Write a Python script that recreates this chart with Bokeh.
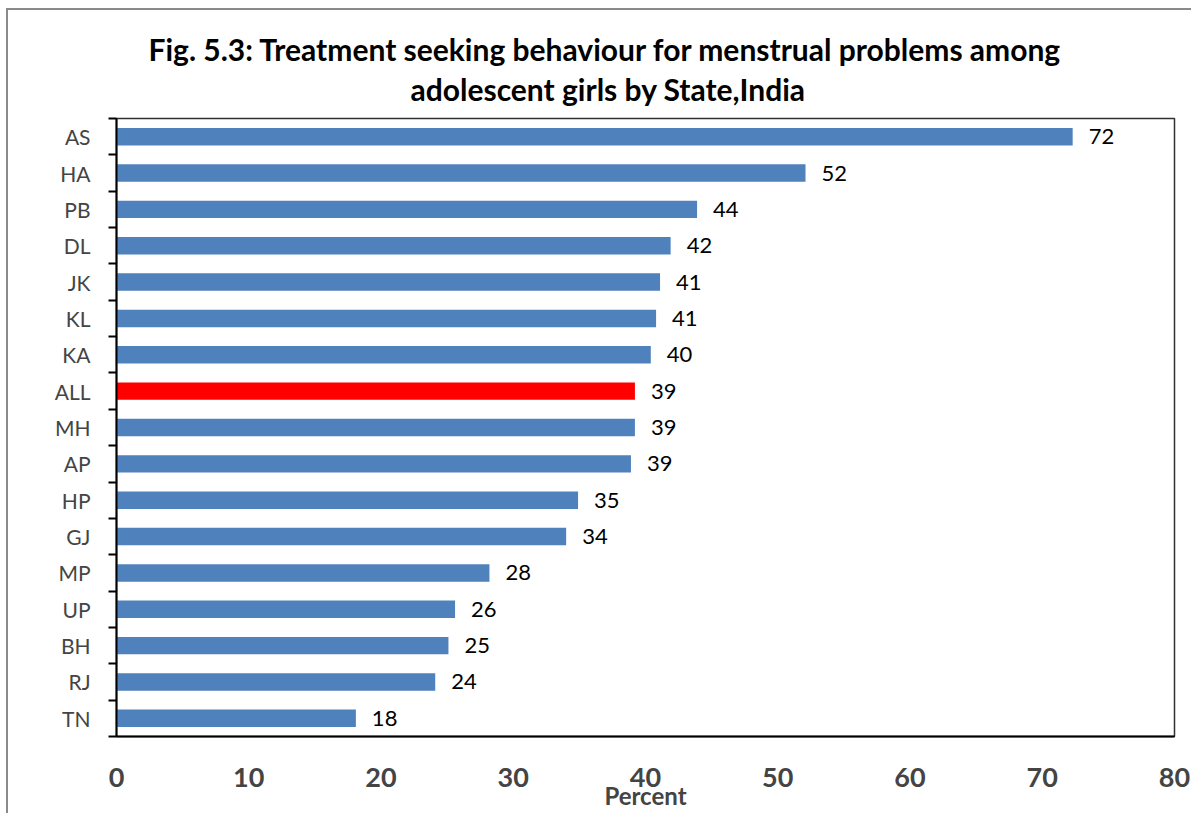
from bokeh.plotting import figure
from bokeh.models import FixedTicker, Title, ColumnDataSource
from bokeh.core.properties import value
from bokeh.embed import file_html
from bokeh.resources import INLINE

states = ["AS", "HA", "PB", "DL", "JK", "KL", "KA", "ALL", "MH", "AP",
          "HP", "GJ", "MP", "UP", "BH", "RJ", "TN"]
percent = [72.3, 52.1, 43.9, 41.9, 41.1, 40.8, 40.4, 39.2, 39.2, 38.9,
           34.9, 34.0, 28.2, 25.6, 25.1, 24.1, 18.1]
x_ticks = [0, 10, 20, 30, 40, 50, 60, 70, 80]
title_lines = ["Fig. 5.3: Treatment seeking behaviour for menstrual problems among",
               "adolescent girls by State,India"]

FONT = "Lato"
n = len(states)
ypos = [n - i - 0.5 for i in range(n)]
colors = ["#FF0000" if s == "ALL" else "#4F81BD" for s in states]
labels = [f"{v:.0f}" for v in percent]

src = ColumnDataSource(dict(y=ypos, x=percent, c=colors, lab=labels))

W, H = 1185, 805
p = figure(width=W, height=H, output_backend="svg", toolbar_location=None,
           x_range=(0, 80), y_range=(0, n),
           min_border_left=108, min_border_right=19,
           min_border_top=108, min_border_bottom=79)
p.styles = {"border-left": "2px solid #8a8a8a", "border-top": "2px solid #8a8a8a",
            "margin-left": "6px", "margin-top": "8px"}
p.grid.visible = False
p.outline_line_color = "#303030"
p.outline_line_width = 1.5

p.hbar(y="y", right="x", left=0, height=0.48, color="c", source=src, line_color=None)
p.text(x="x", y="y", text="lab", source=src, x_offset=16, text_baseline="middle",
       text_font=value(FONT), text_font_size="22px", text_color="#000000")

# x axis
xa = p.xaxis[0]
xa.ticker = FixedTicker(ticks=x_ticks)
xa.major_tick_line_color = None
xa.minor_tick_line_color = None
xa.axis_line_color = "black"
xa.axis_line_width = 2
xa.major_label_text_font = FONT
xa.major_label_text_font_style = "bold"
xa.major_label_text_font_size = "27px"
xa.major_label_standoff = 25
xa.axis_label = "Percent"
xa.axis_label_text_font = FONT
xa.axis_label_text_font_style = "bold"
xa.axis_label_text_font_size = "24px"
xa.axis_label_standoff = -9

# y axis: labels at centres, ticks at boundaries
ya = p.yaxis[0]
ya.ticker = FixedTicker(ticks=ypos, minor_ticks=list(range(n + 1)))
ya.major_label_overrides = {y: s for y, s in zip(ypos, states)}
ya.major_tick_line_color = None
ya.minor_tick_line_color = "black"
ya.minor_tick_line_width = 2
ya.minor_tick_out = 8
ya.minor_tick_in = 0
ya.axis_line_color = "black"
ya.axis_line_width = 2
ya.major_label_text_font = FONT
ya.major_label_text_font_size = "21px"
ya.major_label_standoff = 18

# title: two lines, nearest-to-frame first
for t, off, sb in [(title_lines[1], 294, 24), (title_lines[0], 32, -20)]:
    p.add_layout(Title(text=t, align="left", offset=off, standoff=sb,
                       text_font=FONT, text_font_style="bold",
                       text_font_size="30px", text_color="black"), "above")

open("out.html", "w").write(file_html(p, INLINE))
